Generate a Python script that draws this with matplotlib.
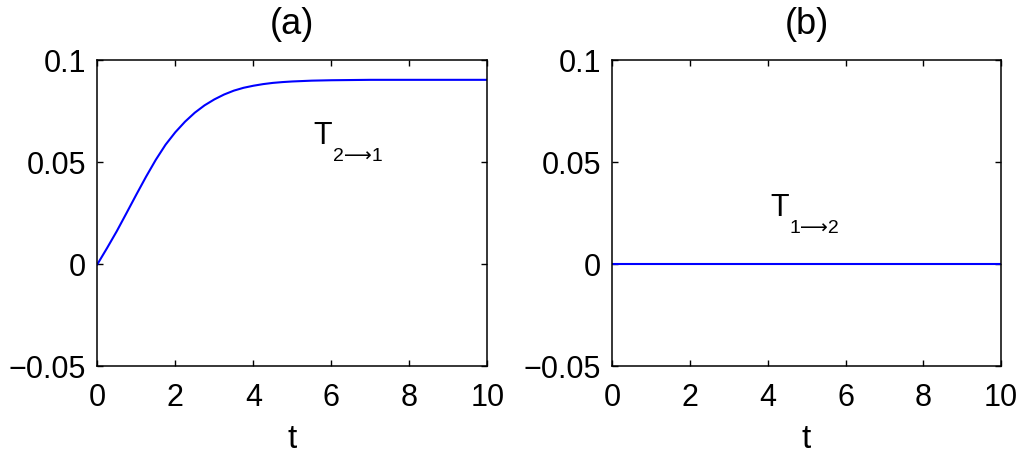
import matplotlib
matplotlib.use("Agg")
import matplotlib.pyplot as plt

t_a = [0, 0.25, 0.5, 0.75, 1.0, 1.25, 1.5, 1.75, 2.0, 2.25, 2.5, 2.75, 3.0, 3.25,
       3.5, 3.75, 4.0, 4.25, 4.5, 4.75, 5.0, 5.5, 6.0, 7.0, 8.0, 9.0, 10.0]
T21 = [0, 0.0080, 0.0163, 0.0252, 0.0342, 0.0430, 0.0513, 0.0587, 0.0648, 0.0700,
       0.0744, 0.0780, 0.0809, 0.0833, 0.0852, 0.0866, 0.0876, 0.0884, 0.0890,
       0.0894, 0.0897, 0.0901, 0.0903, 0.0905, 0.0905, 0.0905, 0.0905]
t_b = [0, 2, 4, 6, 8, 10]
T12 = [0, 0, 0, 0, 0, 0]

titles = ["(a)", "(b)"]
xticks = [0, 2, 4, 6, 8, 10]
yticks = [-0.05, 0, 0.05, 0.1]
yticklabels = ["\u22120.05", "0", "0.05", "0.1"]

fam = ["Liberation Sans", "DejaVu Sans"]
plt.rcParams["font.family"] = fam

fig = plt.figure(figsize=(10.24, 4.58), dpi=100)
ax_a = fig.add_axes([0.0950, 0.200, 0.381, 0.668])
ax_b = fig.add_axes([0.5977, 0.200, 0.380, 0.668])

ax_a.plot(t_a, T21, color=(0, 0, 1), lw=1.5)
ax_b.plot(t_b, T12, color=(0, 0, 1), lw=1.5)

for ax, ttl in zip([ax_a, ax_b], titles):
    ax.set_xlim(0, 10)
    ax.set_ylim(-0.05, 0.1)
    ax.set_xticks(xticks)
    ax.set_xticklabels([str(v) for v in xticks])
    ax.set_yticks(yticks)
    ax.set_yticklabels(yticklabels)
    ax.tick_params(direction="in", length=4.5, width=1.0, labelsize=22,
                   top=True, right=True)
    ax.tick_params(axis="x", pad=12)
    ax.tick_params(axis="y", pad=8)
    for s in ax.spines.values():
        s.set_linewidth(1.1)
    ax.set_title(ttl, fontsize=26, pad=19)
    ax.set_xlabel("t", fontsize=24, labelpad=8)

# annotations
ax_a.text(5.54, 0.059, "T", fontsize=22, ha="left", va="baseline")
ax_a.text(6.03, 0.0505, "2\u27f61", fontsize=14, ha="left", va="baseline")
ax_b.text(4.06, 0.0239, "T", fontsize=22, ha="left", va="baseline")
ax_b.text(4.55, 0.0155, "1\u27f62", fontsize=14, ha="left", va="baseline")

fig.savefig("out.png", dpi=100)
